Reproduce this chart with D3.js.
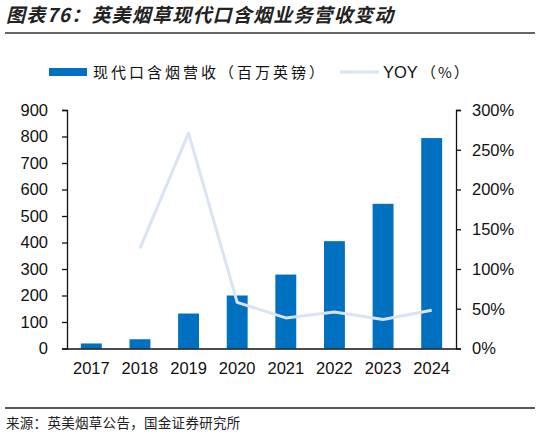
<!DOCTYPE html>
<html>
<head>
<meta charset="utf-8">
<script src="https://cdn.jsdelivr.net/npm/d3@7"></script>
<style>
  body { margin: 0; background: #fff; }
  svg { display: block; }
</style>
</head>
<body>
<svg id="chart"></svg>
<script>
// Chart size
const width = 540, height = 438;

// Data
const years = ["2017", "2018", "2019", "2020", "2021", "2022", "2023", "2024"];
const revenue = [19, 35, 132, 200, 279, 405, 546, 794]; // 百万英镑
const yoy = [null, 126, 271, 58, 38.5, 46, 36.5, 48];    // %
const leftTicks = [0, 100, 200, 300, 400, 500, 600, 700, 800, 900];
const rightTicks = [0, 50, 100, 150, 200, 250, 300];

const barColor = "#0070c0";
const lineColor = "#dae3f3";
const latin = "'Liberation Sans', Arial, sans-serif";
const cjk = "'Noto Sans CJK SC', sans-serif";

const svg = d3.select("#chart")
  .attr("width", width)
  .attr("height", height);

// Title and rule
svg.append("text")
  .attr("x", 6)
  .attr("y", 22)
  .attr("font-family", cjk)
  .attr("font-size", 19)
  .attr("font-weight", "bold")
  .attr("font-style", "italic")
  .attr("letter-spacing", 1.2)
  .attr("fill", "#222")
  .text("图表76：英美烟草现代口含烟业务营收变动");

svg.append("line")
  .attr("x1", 5).attr("x2", 535)
  .attr("y1", 33).attr("y2", 33)
  .attr("stroke", "#333")
  .attr("stroke-width", 1.6);

// Legend
const legend = svg.append("g");
legend.append("rect")
  .attr("x", 49).attr("y", 68)
  .attr("width", 38).attr("height", 8)
  .attr("fill", barColor);
legend.append("text")
  .attr("x", 93).attr("y", 77.5)
  .attr("font-family", cjk)
  .attr("font-size", 15)
  .attr("letter-spacing", 3)
  .attr("fill", "#111")
  .text("现代口含烟营收（百万英镑）");
legend.append("line")
  .attr("x1", 340).attr("x2", 379)
  .attr("y1", 72).attr("y2", 72)
  .attr("stroke", lineColor)
  .attr("stroke-width", 3);
legend.append("text")
  .attr("x", 383).attr("y", 78)
  .attr("font-family", latin)
  .attr("font-size", 16.5)
  .attr("fill", "#111")
  .text("YOY");
legend.append("text")
  .attr("x", 421).attr("y", 77.5)
  .attr("font-family", cjk)
  .attr("font-size", 15)
  .attr("letter-spacing", 2)
  .attr("fill", "#111")
  .text("（%）");

// Scales
const x = d3.scaleBand()
  .domain(years)
  .range([67, 456])
  .paddingInner(0.57)
  .paddingOuter(0.285);

const yLeft = d3.scaleLinear().domain([0, 900]).range([348.5, 110]);
const yRight = d3.scaleLinear().domain([0, 300]).range([348.5, 110]);

// Bars
svg.append("g")
  .selectAll("rect")
  .data(revenue)
  .join("rect")
  .attr("x", (d, i) => x(years[i]))
  .attr("y", d => yLeft(d))
  .attr("width", x.bandwidth())
  .attr("height", d => yLeft(0) - yLeft(d))
  .attr("fill", barColor);

// YOY line
const line = d3.line()
  .defined(d => d != null)
  .x((d, i) => x(years[i]) + x.bandwidth() / 2)
  .y(d => yRight(d));

svg.append("path")
  .datum(yoy)
  .attr("d", line)
  .attr("fill", "none")
  .attr("stroke", lineColor)
  .attr("stroke-width", 3)
  .attr("stroke-linejoin", "round");

// Axes
function styleAxis(g) {
  g.selectAll("path, line").attr("stroke", "#111").attr("stroke-width", 1.3);
  g.selectAll("text")
    .attr("font-family", latin)
    .attr("font-size", 16.5)
    .attr("fill", "#111");
}

svg.append("g")
  .attr("transform", "translate(67,0)")
  .call(d3.axisLeft(yLeft).tickValues(leftTicks).tickSize(5).tickSizeOuter(5).tickPadding(14))
  .call(styleAxis);

svg.append("g")
  .attr("transform", "translate(456,0)")
  .call(d3.axisRight(yRight).tickValues(rightTicks).tickSize(5).tickSizeOuter(5)
    .tickPadding(11).tickFormat(d => d + "%"))
  .call(styleAxis);

svg.append("g")
  .attr("transform", `translate(0,${yLeft(0)})`)
  .call(d3.axisBottom(x).tickSize(0).tickSizeOuter(0).tickPadding(14))
  .call(styleAxis);

// Footer
svg.append("line")
  .attr("x1", 5).attr("x2", 535)
  .attr("y1", 408).attr("y2", 408)
  .attr("stroke", "#222")
  .attr("stroke-width", 1.6);

svg.append("text")
  .attr("x", 6)
  .attr("y", 428)
  .attr("font-family", cjk)
  .attr("font-size", 13.5)
  .attr("letter-spacing", 0.3)
  .attr("fill", "#222")
  .text("来源：英美烟草公告，国金证券研究所");
</script>
</body>
</html>
